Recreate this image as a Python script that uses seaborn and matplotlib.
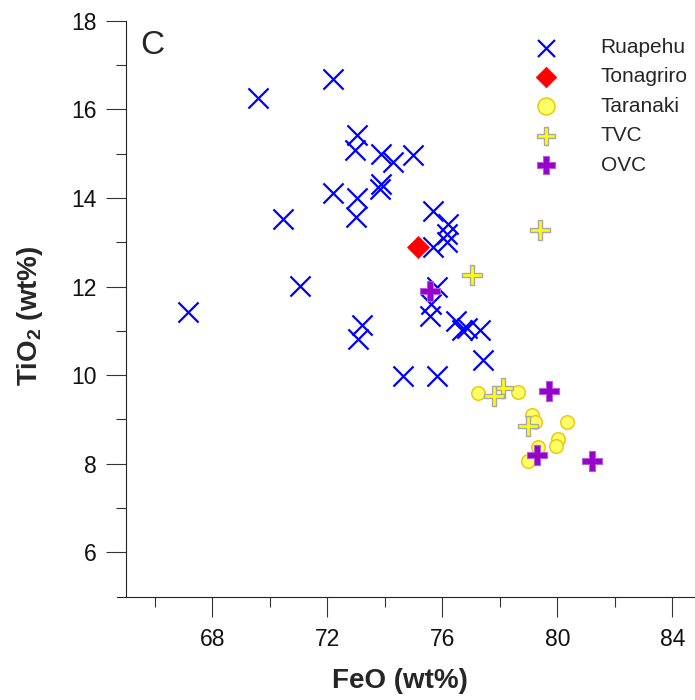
import numpy as np
import pandas as pd
import matplotlib
matplotlib.use('Agg')
import matplotlib.pyplot as plt
from matplotlib.path import Path
from matplotlib.ticker import FixedLocator
import seaborn as sns

# ── Data ──────────────────────────────────────────────────────────────────────
ruapehu_feo = [67.16, 69.57, 70.47, 71.05, 72.18, 72.20, 73.04, 72.96, 73.02, 72.99,
               73.86, 74.27, 74.99, 73.85, 73.83, 73.19, 73.08, 75.66, 76.21, 76.15,
               76.15, 75.68, 75.80, 75.62, 75.57, 76.47, 76.67, 76.85, 77.31, 77.42,
               74.64, 75.80]
ruapehu_tio2 = [11.43, 16.26, 13.52, 12.01, 16.68, 14.11, 15.41, 15.09, 14.00, 13.58,
                15.00, 14.81, 14.98, 14.32, 14.20, 11.13, 10.82, 13.71, 13.41, 13.18,
                13.00, 12.90, 11.99, 11.60, 11.33, 11.22, 11.01, 11.07, 11.01, 10.35,
                9.98, 9.98]

tonagriro_feo = [75.15]
tonagriro_tio2 = [12.89]

taranaki_feo = [77.25, 78.64, 79.13, 79.22, 80.32, 80.03, 79.95, 79.34, 78.99]
taranaki_tio2 = [9.60, 9.61, 9.11, 8.95, 8.94, 8.56, 8.39, 8.37, 8.07]

tvc_feo = [79.40, 77.02, 78.12, 77.80, 78.99]
tvc_tio2 = [13.28, 12.26, 9.70, 9.52, 8.86]

ovc_feo = [75.57, 79.72, 79.28, 81.20]
ovc_tio2 = [11.90, 9.64, 8.20, 8.07]

x_major = [68, 72, 76, 80, 84]
x_minor = [66, 70, 74, 78, 82]
y_major = [6, 8, 10, 12, 14, 16, 18]
y_minor = [7, 9, 11, 13, 15, 17]


def plus_marker(w):
    """Plus-shaped polygon, arm half-thickness w (arm half-length 1)."""
    verts = [(-w, 1), (w, 1), (w, w), (1, w), (1, -w), (w, -w), (w, -1), (-w, -1),
             (-w, -w), (-1, -w), (-1, w), (-w, w), (-w, 1)]
    codes = [Path.MOVETO] + [Path.LINETO] * 11 + [Path.CLOSEPOLY]
    return Path(verts, codes)


# ── Figure ────────────────────────────────────────────────────────────────────
sns.set_style('ticks')
plt.rcParams['font.family'] = ['Liberation Sans', 'DejaVu Sans']
plt.rcParams['mathtext.fontset'] = 'custom'
plt.rcParams['mathtext.bf'] = 'Liberation Sans:bold'
plt.rcParams['mathtext.rm'] = 'Liberation Sans'

fig = plt.figure(figsize=(6.95, 7.0), dpi=100)
ax = fig.add_axes([116.7 / 695, 1 - 596.7 / 700, 1 - 116.7 / 695, (596.7 - 20.7) / 700])

# (name, x, y, scatter style, legend marker size)
groups = [
    ('Ruapehu', ruapehu_feo, ruapehu_tio2,
     dict(marker='x', color='#0000ff', s=210, linewidth=1.6), 150),
    ('Tonagriro', tonagriro_feo, tonagriro_tio2,
     dict(marker='D', color='#ff0000', s=125, edgecolor='#ff0000', linewidth=0.5), 110),
    ('Taranaki', taranaki_feo, taranaki_tio2,
     dict(marker='o', color='#ffff66', s=95, edgecolor='#f2c200', linewidth=1.0), 150),
    ('TVC', tvc_feo, tvc_tio2,
     dict(marker=plus_marker(0.2), color='#ffff00', s=210, edgecolor='#a8a8a8', linewidth=1.0), 150),
    ('OVC', ovc_feo, ovc_tio2,
     dict(marker=plus_marker(0.3), color='#9900cc', s=220, edgecolor='#b060dd', linewidth=0.8), 150),
]

for name, xs, ys, kw, _ in groups:
    df = pd.DataFrame({'FeO': xs, 'TiO2': ys})
    sns.scatterplot(data=df, x='FeO', y='TiO2', ax=ax, label=name, zorder=3, **kw)

ax.set_xlim(64.667, 84.79)
ax.set_ylim(5, 18)

for side in ('top', 'right'):
    ax.spines[side].set_visible(False)
ax.spines['left'].set_position(('data', 65))
for side in ('left', 'bottom'):
    ax.spines[side].set_linewidth(0.8)
    ax.spines[side].set_color('#222222')

ax.xaxis.set_major_locator(FixedLocator(x_major))
ax.xaxis.set_minor_locator(FixedLocator(x_minor))
ax.yaxis.set_major_locator(FixedLocator(y_major))
ax.yaxis.set_minor_locator(FixedLocator(y_minor))

ax.tick_params(axis='both', which='major', direction='out', length=14.4, width=0.8,
               color='#333333', labelsize=16.5, labelcolor='#111111')
ax.tick_params(axis='both', which='minor', direction='out', length=7.2, width=0.8,
               color='#333333')
ax.tick_params(axis='x', which='major', pad=8)
ax.tick_params(axis='y', which='major', pad=7)

ax.set_xlabel('FeO (wt%)', fontsize=20, fontweight='bold')
ax.set_ylabel(r'TiO$_\mathbf{2}$ (wt%)', fontsize=20, fontweight='bold')
ax.xaxis.set_label_coords((400 - 116.7) / 578.3, (596.7 - 668) / 576)
ax.yaxis.set_label_coords((45 - 116.7) / 578.3, (596.7 - 316) / 576)

ax.text((140 - 116.7) / 578.3, (596.7 - 45) / 576, 'C', transform=ax.transAxes,
        fontsize=24, ha='left', va='center')

leg = ax.legend(loc='upper left', bbox_to_anchor=(536 / 695, 1 - 38 / 700),
                bbox_transform=fig.transFigure, frameon=False, fontsize=15,
                handlelength=1.0, handletextpad=2.1, labelspacing=0.5,
                borderpad=0, borderaxespad=0)
for handle, (_, _, _, _, leg_size) in zip(leg.legend_handles, groups):
    handle.set_sizes([leg_size])

fig.savefig('out.png', dpi=100)
